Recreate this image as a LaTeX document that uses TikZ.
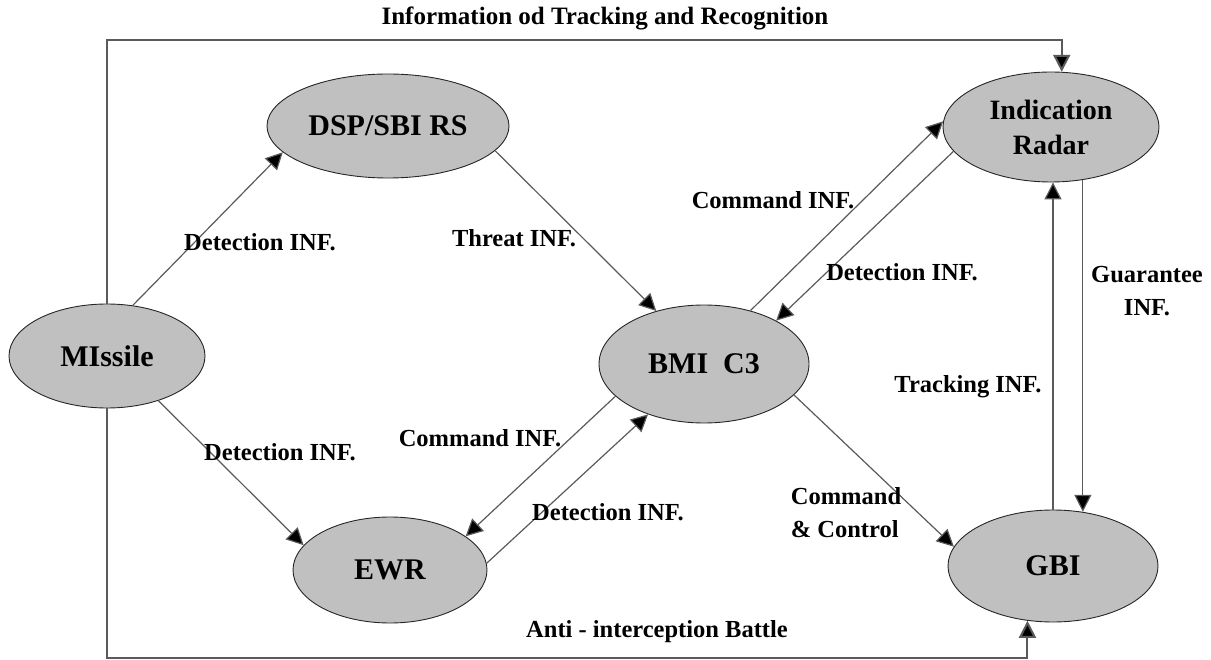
\documentclass[tikz,border=0pt]{standalone}
\usepackage{fontspec}
\setmainfont{Liberation Serif}
\usetikzlibrary{arrows.meta,shapes.geometric}
\definecolor{nodegray}{RGB}{192,192,192}
\definecolor{linegray}{RGB}{90,90,90}
\begin{document}
\begin{tikzpicture}[x=1pt,y=-1pt,
  st/.style={ellipse,draw=black!85,line width=0.9pt,fill=nodegray,inner sep=0pt,
             font=\bfseries\fontsize{30}{36}\selectfont,align=center},
  lbl/.style={font=\bfseries\fontsize{24.5}{33}\selectfont,inner sep=0pt,align=center},
  flow/.style={draw=linegray,line width=1.2pt,-{Triangle[length=17pt,width=17pt,fill=black]}},
  frame/.style={draw=linegray,line width=2pt,-{Triangle[length=17pt,width=17pt,fill=black]}}]
\useasboundingbox (0,0) rectangle (1211,660);

% nodes
\node[st,minimum width=196pt,minimum height=104pt] (mis) at (107,356) {MIssile};
\node[st,minimum width=242pt,minimum height=104pt] (dsp) at (388,126) {DSP/SBI RS};
\node[st,minimum width=216pt,minimum height=110pt,font=\bfseries\fontsize{28}{35}\selectfont] (rad) at (1051,127) {Indication\\Radar};
\node[st,minimum width=210pt,minimum height=118pt] (bmi) at (704,364) {BMI\ \ C3};
\node[st,minimum width=194pt,minimum height=106pt] (ewr) at (390,570) {EWR};
\node[st,minimum width=210pt,minimum height=112pt] (gbi) at (1053,566) {GBI};

% helper coordinates for the frame lines
\coordinate (topy) at (0,40);
\coordinate (boty) at (0,658);

% connectors
\draw[flow] (mis.63) -- (dsp.194);
\draw[flow] (mis.-41) -- (ewr.164);
\draw[flow] (dsp.-13) -- (bmi.132);
\draw[flow] (bmi.49) -- (rad.177);
\draw[flow] (rad.194) -- (bmi.31);
\draw[flow] (bmi.200) -- (ewr.24);
\draw[flow] (ewr.4) -- (bmi.222);
\draw[flow] (bmi.-19) -- (gbi.169);
\draw[flow] (gbi.north) -- (gbi.north |- rad.south);
\draw[flow] (rad.-59) -- (rad.-59 |- gbi.61);
\draw[frame] (mis.north) -- (mis.north |- topy) -| (rad.79);
\draw[frame] (mis.south) -- (mis.south |- boty) -| (gbi.-115);

% labels
\node[lbl,font=\bfseries\fontsize{25}{33}\selectfont] (title) at (605,18) {Information od Tracking and Recognition};
\node[lbl] (ldet1) at (260,242) {Detection INF.};
\node[lbl] (lthreat) at (514,238) {Threat INF.};
\node[lbl] (lcmd1) at (773,200) {Command INF.};
\node[lbl] (ldet2) at (902,272) {Detection INF.};
\node[lbl] (lguar) at (1147,291) {Guarantee\\INF.};
\node[lbl] (ltrack) at (968,387) {Tracking INF.};
\node[lbl] (lcmd2) at (480,438) {Command INF.};
\node[lbl] (ldet3) at (280,452) {Detection INF.};
\node[lbl] (ldet4) at (608,512) {Detection INF.};
\node[lbl,align=left] (lcc) at (846,513) {Command\\\& Control};
\node[lbl] (lanti) at (657,632) {Anti - interception Battle};
\end{tikzpicture}
\end{document}
